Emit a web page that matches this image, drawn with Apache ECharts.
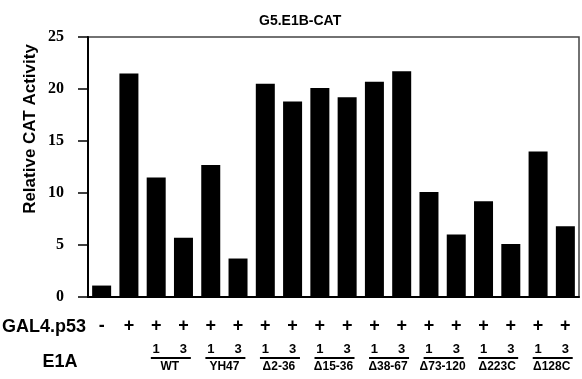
<!DOCTYPE html>
<html>
<head>
<meta charset="utf-8">
<script src="https://cdn.jsdelivr.net/npm/echarts@6/dist/echarts.min.js"></script>
<style>html,body{margin:0;padding:0;background:#fff}#c{width:582px;height:379px}</style>
</head>
<body>
<div id="c"></div>
<script>
var gal4Signs = ['-','+','+','+','+','+','+','+','+','+','+','+','+','+','+','+','+','+'];
var e1aDoses = ['','','1','3','1','3','1','3','1','3','1','3','1','3','1','3','1','3'];
var catActivity = [1.1, 21.5, 11.5, 5.7, 12.7, 3.7, 20.5, 18.8, 20.1, 19.2, 20.7, 21.7, 10.1, 6.0, 9.2, 5.1, 14.0, 6.8];
var groupNames = ['WT','YH47','\u03942-36','\u039415-36','\u039438-67','\u039473-120','\u0394223C','\u0394128C'];
var groupStarts = [2,4,6,8,10,12,14,16];
var yTicks = [0,5,10,15,20,25];

var categories = gal4Signs.map(function(s,i){return String(i);});
// half-step axis for group labels (37 slots, boundaryGap false)
var halfCats = [];
for (var i = 0; i <= categories.length*2; i++) halfCats.push(String(i));
var groupByHalf = {};
groupStarts.forEach(function(s,k){ groupByHalf[2*s+2] = groupNames[k]; });

var chart = echarts.init(document.getElementById('c'));
var sans = 'Liberation Sans';
chart.setOption({
  animation: false,
  backgroundColor: '#fff',
  title: {
    text: 'G5.E1B-CAT', left: 254, top: 9,
    textStyle: {fontFamily: sans, fontWeight: 'bold', fontSize: 14, color: '#000'}
  },
  grid: {left: 88, top: 37, width: 492, height: 260, show: true, borderColor: '#444', borderWidth: 1.5, backgroundColor: 'transparent'},
  xAxis: [{
    type: 'category', data: categories, gridIndex: 0,
    axisLine: {lineStyle: {color: '#000', width: 2}},
    axisTick: {alignWithLabel: true, length: 5, lineStyle: {color: '#000', width: 1.5}},
    axisLabel: {interval: 0, margin: 20, fontFamily: sans, fontWeight: 'bold', fontSize: 18, color: '#000',
      formatter: function(v, i){ return gal4Signs[i]; }}
  }, {
    type: 'category', data: categories, gridIndex: 0, position: 'bottom', offset: 0,
    axisLine: {show: false}, axisTick: {show: false},
    axisLabel: {interval: 0, margin: 46, fontFamily: sans, fontWeight: 'bold', fontSize: 13, color: '#000',
      formatter: function(v, i){ return e1aDoses[i]; }}
  }, {
    type: 'category', data: halfCats, boundaryGap: false, gridIndex: 0, position: 'bottom', offset: 0,
    axisLine: {show: false}, axisTick: {show: false},
    axisLabel: {interval: 0, margin: 64, fontFamily: sans, fontWeight: 'bold', fontSize: 12, color: '#000',
      formatter: function(v, i){ return groupByHalf[i] || ''; }}
  }],
  yAxis: {
    type: 'value', min: 0, max: 25, interval: 5,
    axisLine: {show: true, lineStyle: {color: '#000', width: 2}},
    axisTick: {show: true, length: 10, lineStyle: {color: '#000', width: 1.5}},
    splitLine: {show: false},
    axisLabel: {margin: 24, fontFamily: 'Liberation Serif', fontWeight: 'bold', fontSize: 16, color: '#000',
      formatter: function(v){ return yTicks.indexOf(v) >= 0 ? String(v) : ''; }}
  },
  graphic: [
    {type: 'text', x: 30, y: 129, rotation: Math.PI/2,
     style: {text: 'Relative CAT Activity', fontFamily: sans, fontWeight: 'bold', fontSize: 17, fill: '#000', align: 'center', verticalAlign: 'middle'}},
    {type: 'text', x: 2, y: 327,
     style: {text: 'GAL4.p53', fontFamily: sans, fontWeight: 'bold', fontSize: 18, fill: '#000', align: 'left', verticalAlign: 'middle'}},
    {type: 'text', x: 60, y: 362,
     style: {text: 'E1A', fontFamily: sans, fontWeight: 'bold', fontSize: 18, fill: '#000', align: 'center', verticalAlign: 'middle'}}
  ],
  series: [{
    type: 'bar', data: catActivity, xAxisIndex: 0, barWidth: 19,
    itemStyle: {color: '#000'}
  }, {
    type: 'custom', xAxisIndex: 0, yAxisIndex: 0, silent: true, clip: false,
    data: groupStarts.map(function(s){ return [s, 0]; }),
    renderItem: function(params, api){
      var a = api.coord([api.value(0), 0]);
      var b = api.coord([api.value(0) + 1, 0]);
      var mid = (a[0] + b[0]) / 2 + 1;
      var y = a[1] + 61;
      return {type: 'line', shape: {x1: mid - 20, y1: y, x2: mid + 20, y2: y},
              style: {stroke: '#000', lineWidth: 2}};
    }
  }]
});
</script>
</body>
</html>
